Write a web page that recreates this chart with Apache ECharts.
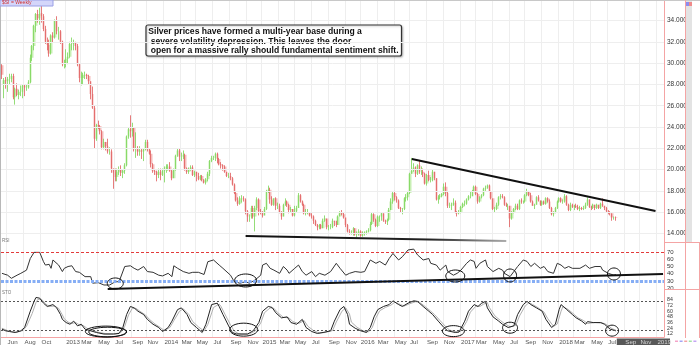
<!DOCTYPE html>
<html>
<head>
<meta charset="utf-8">
<script src="https://cdn.jsdelivr.net/npm/echarts@6/dist/echarts.min.js"></script>
<style>
html,body{margin:0;padding:0;background:#fff;}
#c{width:700px;height:345px;}
</style>
</head>
<body>
<div id="c"></div>
<script>
// Silver, weekly bars. First bar = week ending Fri 11 May 2012.
const firstWeek = '2012-05-11';
const weeksShown = 351; // bars plus empty weeks out to late Jan 2019

// [open, close, low, high] per week
const ohlc = [
[29.8,28.9,28.5,29.9],[28.0,28.4,26.7,28.6],[28.4,28.3,27.6,28.7],[28.3,28.5,27.3,28.7],[28.5,28.5,28.0,29.0],
[28.5,28.8,28.2,29.0],[28.8,26.8,26.6,29.0],[26.8,27.6,26.1,27.7],[27.6,27.0,26.9,28.1],[27.0,27.3,26.6,27.5],
[27.3,27.3,26.9,27.9],[27.3,27.9,26.7,28.0],[27.9,27.7,26.9,28.0],[27.7,27.7,27.4,28.0],[27.7,28.2,27.6,28.4],
[28.2,30.5,28.1,30.8],[30.5,31.6,30.2,31.7],[31.6,33.5,31.2,33.6],[33.5,34.6,32.9,34.7],[34.6,34.2,33.8,35.0],
[34.2,34.6,33.6,35.2],[34.7,34.4,33.8,35.4],[34.4,33.2,33.0,34.6],[33.2,32.0,31.8,33.5],[32.0,31.7,31.2,32.4],
[31.7,30.9,30.6,32.2],[30.9,32.6,30.8,32.7],[32.6,32.4,31.9,32.9],[32.4,34.0,32.3,34.1],[34.0,33.0,32.7,34.4],
[33.0,33.0,32.2,33.4],[33.0,32.0,31.8,33.1],[32.0,29.9,29.7,32.1],[29.9,30.0,29.5,30.3],
// 2013
[30.0,30.4,29.6,31.3],[30.4,30.6,29.9,31.0],[30.6,31.8,30.5,32.0],[31.8,31.8,31.2,32.4],[31.8,31.9,31.2,32.2],
[31.9,31.6,31.2,32.0],[31.6,29.9,29.7,31.8],[29.9,28.6,28.2,30.0],[28.6,28.6,27.9,29.2],[28.6,28.9,28.0,29.1],
[28.9,28.9,28.5,29.2],[28.9,28.8,28.5,29.0],[28.8,28.3,28.0,28.9],[28.3,27.1,26.6,28.3],[27.1,25.8,25.7,27.8],
[25.8,22.9,22.0,26.0],[22.9,24.2,22.7,24.3],[24.2,24.1,23.8,24.6],[24.1,23.6,23.3,24.2],[23.6,22.1,21.9,23.7],
[22.1,22.6,21.9,22.9],[22.6,22.2,21.8,22.6],[22.2,21.7,21.5,22.9],[21.7,21.7,21.4,22.1],[21.7,20.1,19.7,21.9],
[20.1,19.7,18.2,20.1],[19.7,19.3,18.9,20.1],[19.3,19.8,18.9,20.1],[19.8,20.0,19.5,20.3],[20.0,19.7,19.4,20.4],
[19.7,19.9,19.2,20.0],[19.9,20.4,19.6,20.6],[20.4,23.1,20.3,23.2],[23.1,23.8,22.9,24.0],[23.8,23.6,23.0,25.1],
[23.6,23.9,23.1,24.4],[23.9,21.9,21.7,24.0],[21.9,21.9,21.1,23.5],[21.9,21.7,21.3,22.2],[21.7,21.8,21.3,22.2],
[21.8,21.7,21.0,22.0],[21.7,21.9,20.8,22.0],[21.9,22.6,21.8,22.8],[22.6,21.9,21.7,22.8],[21.9,21.5,21.4,22.0],
[21.5,20.5,20.2,21.8],[20.5,19.9,19.7,20.6],[19.9,19.8,19.5,20.0],[19.8,19.5,18.9,19.9],[19.5,19.8,19.2,20.1],
[19.8,19.5,19.0,20.1],[19.5,19.9,19.4,20.1],
// 2014
[19.9,20.1,18.8,20.3],[20.1,20.3,19.7,20.5],[20.3,20.3,19.9,20.5],[20.3,19.9,19.8,20.7],[19.9,19.2,19.0,20.0],
[19.2,20.0,19.2,20.1],[20.0,21.3,19.9,21.4],[21.3,21.8,21.2,22.0],[21.8,21.2,20.8,22.0],[21.2,21.2,20.8,21.6],
[21.2,21.4,21.0,21.8],[21.4,20.1,19.9,21.5],[20.1,19.8,19.6,20.2],[19.8,20.0,19.6,20.2],[20.0,20.2,19.9,20.4],
[20.2,19.5,19.4,20.4],[19.5,19.8,19.3,19.9],[19.8,19.4,18.9,19.8],[19.4,19.1,19.0,19.7],[19.1,19.4,19.0,19.5],
[19.4,19.0,18.9,19.5],[19.0,18.8,18.7,19.1],[18.8,19.1,18.6,19.2],[19.1,19.6,18.9,19.8],[19.6,20.8,19.4,20.9],
[20.8,21.1,20.7,21.3],[21.1,21.1,20.9,21.3],[21.1,21.5,20.8,21.6],[21.5,21.0,20.6,21.6],[21.0,20.5,20.4,21.1],
[20.5,20.4,20.1,20.7],[20.4,20.3,19.9,20.5],[20.3,19.8,19.7,20.4],[19.8,19.4,19.3,19.8],[19.4,19.4,19.2,19.7],
[19.4,19.2,19.0,19.7],[19.2,18.6,18.5,19.3],[18.6,17.8,17.7,18.7],[17.8,17.1,17.0,17.9],[17.1,16.8,16.6,17.4],
[16.8,17.3,16.7,17.5],[17.3,17.3,16.9,17.6],[17.3,17.2,17.0,17.5],[17.2,16.1,15.8,17.3],[16.1,15.6,15.1,16.2],
[15.6,15.6,15.1,15.8],[15.6,16.4,15.4,16.6],[16.4,15.6,15.4,16.6],[15.6,16.4,14.2,16.6],[16.4,17.2,16.2,17.4],
[17.2,16.1,15.7,17.3],[16.1,16.0,15.8,16.3],
// 2015
[16.0,15.7,15.5,16.1],[15.7,16.3,15.7,16.5],[16.3,18.0,16.2,18.1],[18.0,18.1,17.8,18.5],[18.1,17.2,16.8,18.3],
[17.2,16.7,16.6,17.5],[16.7,17.3,16.6,17.3],[17.3,16.6,16.2,17.4],[16.6,16.6,16.3,16.9],[16.6,16.0,15.9,16.8],
[16.0,15.6,15.3,16.1],[15.6,16.7,15.6,16.8],[16.7,17.0,16.6,17.3],[17.0,16.7,16.5,17.1],[16.7,16.2,15.9,16.8],
[16.2,16.3,16.0,16.5],[16.3,15.7,15.6,16.3],[15.7,16.1,15.6,16.6],[16.1,16.4,16.0,16.6],[16.4,17.6,16.4,17.8],
[17.6,17.0,16.9,17.7],[17.0,16.7,16.6,17.1],[16.7,15.9,15.8,16.8],[15.9,16.0,15.7,16.3],[16.0,16.0,15.8,16.3],
[16.0,15.7,15.6,16.0],[15.7,15.6,15.4,15.9],[15.6,15.2,14.9,15.7],[15.2,14.8,14.7,15.3],[14.8,14.6,14.3,14.9],
[14.6,14.8,14.4,14.9],[14.8,14.5,14.4,14.9],[14.5,15.2,14.5,15.4],[15.2,15.4,15.1,15.7],[15.4,14.6,14.4,15.4],
[14.6,14.6,14.3,14.8],[14.6,14.6,14.4,14.9],[14.6,15.2,14.5,15.4],[15.2,15.1,14.7,15.2],[15.1,14.8,14.6,15.2],
[14.8,15.6,14.8,15.7],[15.6,15.9,15.6,16.1],[15.9,15.8,15.7,16.2],[15.8,15.5,15.4,16.0],[15.5,14.8,14.6,15.5],
[14.8,14.2,14.1,14.9],[14.2,14.1,13.9,14.4],[14.1,14.1,13.9,14.3],[14.1,14.5,13.8,14.6],[14.5,13.9,13.8,14.5],
[13.9,13.9,13.6,14.2],[13.9,14.2,13.8,14.4],
// 2016
[14.2,13.8,13.7,14.3],[13.8,14.0,13.7,14.2],[14.0,14.1,13.8,14.2],[14.1,14.2,13.9,14.3],[14.2,14.3,14.1,14.5],
[14.3,14.9,14.2,15.1],[14.9,15.8,14.8,16.0],[15.8,15.3,15.1,15.9],[15.3,14.7,14.6,15.4],[14.7,15.6,14.6,15.7],
[15.6,15.6,15.1,15.7],[15.6,15.9,15.2,16.0],[15.9,15.2,15.1,15.9],[15.2,15.1,14.9,15.3],[15.1,15.3,14.8,15.4],
[15.3,16.2,15.2,16.4],[16.2,17.0,16.2,17.3],[17.0,17.8,16.8,17.9],[17.8,17.4,17.1,18.0],[17.4,17.1,16.9,17.5],
[17.1,16.4,16.3,17.2],[16.4,16.3,16.0,16.5],[16.3,16.3,15.8,16.4],[16.3,17.3,16.2,17.4],[17.3,17.4,17.0,17.7],
[17.4,17.8,17.1,18.0],[17.8,19.6,17.7,19.7],[19.6,19.9,19.6,21.1],[19.9,20.2,19.8,20.6],[20.2,19.6,19.3,20.3],
[19.6,20.4,19.5,20.5],[20.4,19.8,19.6,20.8],[19.8,19.8,19.5,20.3],[19.8,19.6,19.3,20.1],[19.6,18.7,18.6,19.7],
[18.7,19.5,18.5,19.6],[19.5,19.0,18.9,19.9],[19.0,19.0,18.8,19.3],[19.0,19.8,18.9,20.0],[19.8,19.2,19.0,19.8],
[19.2,17.2,17.1,19.2],[17.2,17.4,16.8,17.6],[17.4,17.5,17.2,17.7],[17.5,17.7,17.4,17.8],[17.7,18.4,17.6,18.7],
[18.4,17.8,17.5,18.8],[17.8,16.6,16.4,17.9],[16.6,16.6,16.4,16.9],[16.6,16.7,16.2,16.9],[16.7,16.9,16.6,17.3],
[16.9,16.0,15.9,17.1],[16.0,15.9,15.6,16.1],[15.9,16.0,15.8,16.2],
// 2017
[16.0,16.5,15.9,16.6],[16.5,16.8,16.4,16.9],[16.8,16.8,16.6,17.1],[16.8,17.2,16.7,17.3],[17.2,17.5,17.1,17.6],
[17.5,17.5,17.3,17.9],[17.5,18.0,17.5,18.1],[18.0,18.4,17.9,18.5],[18.4,17.7,17.6,18.5],[17.7,17.0,16.8,17.8],
[17.0,17.4,16.9,17.5],[17.4,17.6,17.3,17.7],[17.6,18.2,17.5,18.3],[18.2,18.3,18.0,18.5],[18.3,18.5,18.2,18.6],
[18.5,18.0,17.9,18.6],[18.0,17.3,17.2,18.0],[17.3,16.3,16.2,17.3],[16.3,16.3,16.0,16.5],[16.3,16.7,16.2,16.9],
[16.7,17.4,16.6,17.5],[17.4,17.5,17.2,17.7],[17.5,17.4,17.3,17.7],[17.4,16.7,16.6,17.5],[16.7,16.6,16.5,16.9],
[16.6,16.6,16.2,16.8],[16.6,15.4,14.6,16.6],[15.4,16.0,15.3,16.1],[16.0,16.3,15.9,16.4],[16.3,16.6,16.2,16.8],
[16.6,16.3,16.2,16.8],[16.3,17.1,16.2,17.2],[17.1,17.0,16.8,17.3],[17.0,17.0,16.8,17.1],[17.0,17.6,16.9,17.7],
[17.6,18.0,17.5,18.2],[18.0,17.6,17.5,18.0],[17.6,17.0,16.9,17.8],[17.0,16.6,16.6,17.1],[16.6,16.7,16.3,16.8],
[16.7,17.4,16.7,17.5],[17.4,17.1,17.0,17.6],[17.1,16.7,16.6,17.1],[16.7,17.0,16.6,17.1],[17.0,16.8,16.7,17.1],
[16.8,17.3,16.7,17.4],[17.3,17.0,16.9,17.4],[17.0,16.4,16.3,17.2],[16.4,15.8,15.7,16.5],[15.8,16.0,15.6,16.1],
[16.0,16.4,15.9,16.5],[16.4,17.0,16.3,17.1],
// 2018
[17.0,17.3,16.9,17.4],[17.3,17.0,16.9,17.4],[17.0,17.0,16.8,17.2],[17.0,17.5,16.9,17.7],[17.5,16.7,16.6,17.6],
[16.7,16.2,16.1,16.8],[16.2,16.7,16.1,16.9],[16.7,16.5,16.4,16.8],[16.5,16.6,16.2,16.7],[16.6,16.5,16.4,16.8],
[16.5,16.3,16.2,16.7],[16.3,16.4,16.1,16.6],[16.4,16.3,16.2,16.5],[16.3,16.4,16.2,16.6],[16.4,16.7,16.3,16.9],
[16.7,17.2,16.6,17.4],[17.2,16.5,16.4,17.2],[16.5,16.4,16.2,16.6],[16.4,16.7,16.3,16.8],[16.7,16.4,16.2,16.7],
[16.4,16.7,16.3,16.8],[16.7,16.4,16.3,16.7],[16.4,16.8,16.3,16.9],[16.8,16.6,16.5,17.3],[16.6,16.4,16.2,16.6],
[16.4,16.1,16.0,16.5],[16.1,16.0,15.8,16.2],[16.0,15.9,15.7,16.1],[15.9,15.5,15.2,15.9],[15.5,15.5,15.3,15.6],
[15.5,15.45,15.2,15.6]
];

// RSI readings [week index, value]
const rsiPts = [
[0,40.6],[3,38],[5,33.7],[8,38],[10,40.6],[13,45],[15,61],[17,69.5],[18,70.5],[20,69.5],[22,56.6],[23,52],[25,53],
[26,47.5],[27,59],[28,60],[30,52],[32,43],[33,47.5],[35,50],[37,51],[39,43],[41,42],[44,36],[47,36],[48,27],
[51,27.7],[54,24.5],[57,24.5],[60,29],[62,29],[65,50],[68,51],[70,47.5],[72,45],[75,50],[77,43],[80,42],[83,38],
[85,37],[88,40.6],[90,36],[91,51],[93,47.5],[96,43],[99,40.6],[101,42],[104,42],[107,39],[109,56.6],[112,59],
[115,52],[117,47.5],[121,38],[123,29],[126,27],[129,29],[131,27],[134,31.4],[137,38],[138,52],[140,54.4],
[142,47.5],[144,45],[145,47.5],[147,40.6],[149,50],[151,45],[152,40.6],[155,47.5],[157,52],[159,43],[161,38],
[164,43],[166,36],[168,40.6],[171,38],[174,43],[177,54.4],[179,47.5],[182,38],[184,40.6],[187,43],[190,42],
[192,43],[195,59],[198,54.4],[200,57],[203,52],[205,61],[207,68],[210,59],[212,63.5],[215,72.8],[218,74],
[220,66],[223,59],[226,61],[227,54.4],[230,52],[232,45],[235,52],[236,43],[239,38],[241,40.6],[243,45],
[246,54.4],[248,59],[250,57],[251,47.5],[253,54.4],[256,59],[257,50],[260,43],[263,47.5],[265,45],[266,40.6],
[269,36],[271,43],[273,50],[276,59],[278,57],[280,50],[282,54.4],[285,47.5],[287,50],[289,43],[292,40.6],
[294,54.4],[296,52],[298,47.5],[300,50],[302,47.5],[306,47.5],[309,52],[311,47.5],[314,50],[317,50],[318,45],
[321,40.6],[324,38],[325,39]
];

// Stochastic %K readings [week index, value]
const stoK = [
[0,22],[2,18.5],[4,17],[7,15],[10,18.5],[12,25.5],[15,60],[17,80.7],[18,89],[20,87.6],[22,77],[24,70],[25,67],
[27,74],[29,67],[31,53],[32,42.7],[34,36],[36,32.4],[38,39],[40,29],[42,32.4],[44,22],[47,18.5],[50,15],
[54,11.7],[59,11.7],[62,13],[64,25.5],[66,53],[68,70],[70,67],[72,60],[75,53],[77,42.7],[80,32.4],[83,25.5],
[85,17],[88,25.5],[90,39],[93,63.5],[95,67],[98,53],[100,36],[103,25.5],[106,15],[108,32.4],[111,74],[114,77],
[115,70],[117,53],[120,29],[122,15],[124,12],[126,11.7],[130,11.7],[133,18.5],[136,36],[138,60],[141,70],
[143,68],[145,56.6],[148,46],[151,48],[153,36],[156,32.4],[159,42.7],[161,25.5],[164,17],[167,13],[170,15],
[174,18.5],[176,39],[179,63.5],[181,70],[183,53],[184,32.4],[187,24],[190,18.5],[193,15],[195,25.5],[197,48],
[199,63.5],[202,70],[205,74],[207,82],[210,74],[212,70],[215,77],[218,82],[220,80.7],[223,70],[226,60],
[228,53],[231,39],[234,25.5],[236,18.5],[240,15],[242,16],[245,39],[247,60],[250,74],[252,70],[254,77],
[256,80.7],[257,67],[260,48],[263,39],[265,32.4],[268,25.5],[271,29],[273,53],[276,74],[278,80.7],[280,74],
[283,67],[286,60],[288,42.7],[291,25.5],[293,32.4],[295,63.5],[296,74],[299,63.5],[302,53],[304,46],[307,39],
[309,32.4],[310,38],[313,36],[317,36],[319,32.4],[322,22],[325,18.5]
];

// Stochastic %D readings [week index, value]
const stoD = [
[0,24],[3,19],[5,17],[8,15.5],[11,19],[13,28],[16,55],[18,78],[19,85],[21,85],[23,76],[25,70],[26,68],[28,71],
[30,66],[32,52],[33,44],[35,37],[37,34],[39,36],[41,31],[43,30],[45,24],[48,19],[51,15.5],[55,12.5],[60,12],
[63,15],[65,28],[67,52],[69,66],[71,66],[73,60],[76,52],[78,43],[81,33],[84,25],[86,19],[89,26],[91,40],[94,60],
[96,65],[99,53],[101,38],[104,27],[107,18],[109,32],[112,68],[115,75],[116,70],[118,54],[121,31],[123,18],
[125,13],[127,12],[131,12],[134,18],[137,35],[139,57],[142,67],[144,66],[146,57],[149,47],[152,46],[154,38],
[157,34],[160,40],[162,28],[165,19],[168,14],[171,15],[175,19],[177,37],[180,60],[182,67],[184,54],[185,37],
[188,26],[191,19],[194,16],[196,25],[198,46],[200,61],[203,68],[206,73],[208,79],[211,74],[213,71],[216,76],
[219,80],[221,79],[224,70],[227,60],[229,53],[232,40],[235,27],[237,20],[241,16],[243,18],[246,38],[248,58],
[251,71],[253,70],[255,75],[257,78],[258,68],[261,50],[264,40],[266,34],[269,27],[272,30],[274,50],[277,71],
[279,78],[281,74],[284,67],[287,58],[289,44],[292,28],[294,33],[296,60],[297,70],[300,63],[303,53],[305,46],
[308,40],[310,34],[311,37],[314,36],[318,35],[320,32],[323,23],[325,20]
];

// axis tick values
const priceTicks = [14,16,18,20,22,24,26,28,30,32,34];
const rsiTicks = [20,30,40,50,60,70];
const stoTicks = [12,24,36,48,60,72,84];
const monthTicks = ['2012-06','2012-08','2012-10',
  '2013-01','2013-03','2013-05','2013-07','2013-09','2013-11',
  '2014-01','2014-03','2014-05','2014-07','2014-09','2014-11',
  '2015-01','2015-03','2015-05','2015-07','2015-09','2015-11',
  '2016-01','2016-03','2016-05','2016-07','2016-09','2016-11',
  '2017-01','2017-03','2017-05','2017-07','2017-09','2017-11',
  '2018-01','2018-03','2018-05','2018-07','2018-09','2018-11','2019-01'];
const monthNames = ['Jan','Feb','Mar','Apr','May','Jun','Jul','Aug','Sep','Oct','Nov','Dec'];

// comment text, one entry per line
const noteLines = [
  'Silver prices have formed a multi-year base during a',
  ' severe volatility depression. This leaves the door',
  ' open for a massive rally should fundamental sentiment shift.'
];

// hand-drawn trend lines [[week, value],[week, value]]
const priceTrends = [
  [[128.7,13.77],[267.4,13.30]],
  [[216.5,21.0],[346.2,16.11]],
  [[209.7,15.64],[350.5,14.61]]
];
const rsiTrend = [[56.1,19.0],[350,39.7]];
// circled spots [week, value, rx, ry]
const rsiRings = [[60.4,26.6,8,5.5],[129.2,30.7,11,6.5],[240.4,36.9,9.5,6],[268.7,37.6,6.5,6.5],[323.7,39.7,6.5,6]];
const stoRings = [[55.3,16.9,20.5,5.5],[55.8,16.0,19,4.8],[127.6,21,14,6.5],[239.3,17.9,11,5.5],[269.2,25.1,7.5,5.5],[323.2,18.9,6.5,5.5]];

// ---- categories ----
const cats = [];
const t0 = Date.parse(firstWeek + 'T00:00:00Z');
for (let i = 0; i < weeksShown; i++) {
  cats.push(new Date(t0 + i * 7 * 86400000).toISOString().slice(0, 10));
}
const lastIdx = ohlc.length - 1;
const lastClose = ohlc[lastIdx][1];

const labelAt = new Map();
monthTicks.forEach(function (m) {
  const idx = cats.findIndex(function (c) { return c.slice(0, 7) === m; });
  if (idx >= 0) {
    const mo = +m.slice(5, 7);
    labelAt.set(idx, mo === 1 ? m.slice(0, 4) : monthNames[mo - 1]);
  }
});
const isTick = function (idx) { return labelAt.has(idx); };

const FONT = 'Liberation Sans';
const PINK = '#f4a4a4';
const GRIDC = '#eeeeee';

function xAxisFor(k) {
  const bottom = k === 2;
  return {
    type: 'category', gridIndex: k, data: cats, boundaryGap: true,
    axisLine: { show: bottom, lineStyle: { color: PINK, width: 1 } },
    axisTick: { show: false },
    axisLabel: {
      show: bottom, interval: function (idx) { return isTick(idx); },
      formatter: function (v) { return labelAt.get(cats.indexOf(v)) || ''; },
      color: function (v) { return cats.indexOf(v) > lastIdx ? '#d6d6d6' : '#555'; },
      fontFamily: FONT, fontSize: 6.2, align: 'left', margin: 2
    },
    splitLine: { show: true, interval: function (idx) { return isTick(idx); }, lineStyle: { color: GRIDC, width: 1 } }
  };
}
function yAxisFor(k, min, max, ticks, fmt, fs) {
  return {
    type: 'value', gridIndex: k, position: 'right', min: min, max: max, scale: true,
    axisLine: { show: true, lineStyle: { color: PINK, width: 1 } },
    axisTick: { show: false },
    splitLine: { show: false },
    axisLabel: {
      customValues: ticks, formatter: fmt, fontFamily: FONT, fontSize: fs, color: '#333',
      margin: 3, padding: [0, 0, 2, 0], hideOverlap: false
    }
  };
}

const chart = echarts.init(document.getElementById('c'), null, { width: 700, height: 345 });

const option = {
  animation: false,
  backgroundColor: '#ffffff',
  grid: [
    { left: 1, right: 36, top: 1, height: 242 },
    { left: 1, right: 36, top: 243, height: 47 },
    { left: 1, right: 36, top: 290, height: 48 }
  ],
  xAxis: [xAxisFor(0), xAxisFor(1), xAxisFor(2)],
  yAxis: [
    yAxisFor(0, 13.11, 35.83, priceTicks, function (v) { return v.toFixed(3); }, 6.5),
    yAxisFor(1, 17.59, 82.41, rsiTicks, function (v) { return String(v); }, 6),
    yAxisFor(2, 5.47, 104.84, stoTicks, function (v) { return String(v); }, 5.2)
  ],
  series: [
    { // price grid lines
      type: 'line', xAxisIndex: 0, yAxisIndex: 0, data: [], z: 0, silent: true,
      markLine: {
        silent: true, symbol: ['none', 'none'], label: { show: false },
        lineStyle: { color: GRIDC, type: 'solid', width: 1 },
        data: priceTicks.map(function (v) { return { yAxis: v }; })
      }
    },
    { // pale bodies
      type: 'candlestick', xAxisIndex: 0, yAxisIndex: 0, data: ohlc, barWidth: 3, z: 2,
      itemStyle: { color: '#c8efb4', color0: '#f5bcbc', borderColor: '#c8efb4', borderColor0: '#f5bcbc', borderWidth: 0 }
    },
    { // range lines
      type: 'candlestick', xAxisIndex: 0, yAxisIndex: 0, data: ohlc, barWidth: 1, z: 3,
      itemStyle: { color: '#78d456', color0: '#e05a5a', borderColor: '#78d456', borderColor0: '#e05a5a', borderWidth: 0.8 },
      markLine: {
        silent: true, symbol: ['none', 'none'],
        data: [{
          yAxis: lastClose, lineStyle: { opacity: 0 },
          label: {
            show: true, position: 'end', distance: 2, formatter: lastClose.toFixed(3),
            backgroundColor: '#111', color: '#fff', fontFamily: FONT, fontSize: 6.5, padding: [1, 2, 1, 2]
          }
        }]
      }
    },
    { // trend lines on price
      type: 'line', xAxisIndex: 0, yAxisIndex: 0, data: [], z: 5, silent: true,
      markLine: {
        silent: true, symbol: ['none', 'none'], label: { show: false },
        lineStyle: { color: '#111', type: 'solid', width: 2 },
        data: priceTrends.map(function (s, k) {
          const first = { coord: s[0] };
          if (k === 0) {
            first.lineStyle = {
              width: 2,
              color: new echarts.graphic.LinearGradient(0, 0, 1, 0, [
                { offset: 0, color: '#111' }, { offset: 0.7, color: '#222' }, { offset: 1, color: '#b0b0b0' }
              ])
            };
          }
          return [first, { coord: s[1] }];
        })
      }
    },
    { // RSI
      type: 'line', xAxisIndex: 1, yAxisIndex: 1, data: rsiPts, symbol: 'none', z: 3,
      lineStyle: { color: '#333', width: 1 },
      markLine: {
        silent: true, symbol: ['none', 'none'], label: { show: false },
        data: [
          { yAxis: 70, lineStyle: { color: '#e23b3b', type: [3, 2], width: 1.2 } },
          { yAxis: 30, lineStyle: { color: '#86aef5', type: [3, 1.5], width: 3 } },
          [{ coord: rsiTrend[0], lineStyle: { color: '#111', type: 'solid', width: 2 } }, { coord: rsiTrend[1] }]
        ]
      }
    },
    { // Stochastic %D
      type: 'line', xAxisIndex: 2, yAxisIndex: 2, data: stoD, symbol: 'none', z: 2,
      lineStyle: { color: '#b0b0b0', width: 1 },
      markLine: {
        silent: true, symbol: ['none', 'none'], label: { show: false },
        lineStyle: { color: '#555', type: [2, 2], width: 1 },
        data: [{ yAxis: 80 }, { yAxis: 20 }]
      }
    },
    { // Stochastic %K
      type: 'line', xAxisIndex: 2, yAxisIndex: 2, data: stoK, symbol: 'none', z: 3,
      lineStyle: { color: '#222', width: 1 }
    }
  ]
};
chart.setOption(option);

// decorations drawn after layout
const gfx = [];
function ring(grid, r) {
  const p = chart.convertToPixel({ xAxisIndex: grid, yAxisIndex: grid }, [r[0], r[1]]);
  gfx.push({ type: 'ellipse', silent: true, z: 20, shape: { cx: p[0], cy: p[1], rx: r[2], ry: r[3] },
    style: { fill: 'none', stroke: '#111', lineWidth: 1 } });
}
rsiRings.forEach(function (r) { ring(1, r); });
stoRings.forEach(function (r) { ring(2, r); });

const pLast = chart.convertToPixel({ xAxisIndex: 2, yAxisIndex: 2 }, [lastIdx, 50]);
const pEnd = chart.convertToPixel({ xAxisIndex: 2, yAxisIndex: 2 }, [weeksShown - 1, 50]);
const step = (pEnd[0] - pLast[0]) / (weeksShown - 1 - lastIdx);
const bandX = pLast[0] + step / 2;
const rightX = pEnd[0] + step / 2;

// comment box: frame plus one text element per line
const noteChildren = [
  { type: 'rect', shape: { x: 0, y: 0, width: 255.5, height: 31, r: 2 },
    style: { fill: '#ffffff', stroke: '#333', lineWidth: 1.2, shadowBlur: 2, shadowColor: 'rgba(0,0,0,0.25)', shadowOffsetX: 1, shadowOffsetY: 1 } }
];
noteLines.forEach(function (t, k) {
  noteChildren.push({ type: 'text', x: 2.3, y: 6.7 + k * 9.6,
    style: { text: t, fill: '#111', font: 'bold 8.6px "Liberation Sans"', verticalAlign: 'middle' } });
});

gfx.push(
  // future part of the date strip
  { type: 'rect', silent: true, z: 0, shape: { x: bandX, y: 338.5, width: rightX + 6 - bandX, height: 7 }, style: { fill: '#585858' } },
  // frame lines
  { type: 'line', silent: true, z: 30, shape: { x1: 0, y1: 0.5, x2: 700, y2: 0.5 }, style: { stroke: '#c8c8c8', lineWidth: 1 } },
  { type: 'line', silent: true, z: 30, shape: { x1: 0.5, y1: 0, x2: 0.5, y2: 345 }, style: { stroke: '#b8b8b8', lineWidth: 1 } },
  { type: 'line', silent: true, z: 30, shape: { x1: rightX, y1: 242.5, x2: 700, y2: 242.5 }, style: { stroke: PINK, lineWidth: 1 } },
  { type: 'line', silent: true, z: 30, shape: { x1: rightX, y1: 289.5, x2: 700, y2: 289.5 }, style: { stroke: PINK, lineWidth: 1 } },
  { type: 'line', silent: true, z: 30, shape: { x1: 685.5, y1: 0, x2: 685.5, y2: 338 }, style: { stroke: PINK, lineWidth: 1 } },
  { type: 'line', silent: true, z: 30, shape: { x1: 699.5, y1: 243, x2: 699.5, y2: 338 }, style: { stroke: PINK, lineWidth: 1 } },
  // scroll strip at the right of the price pane
  { type: 'rect', silent: true, z: 30, shape: { x: 686, y: 1, width: 6, height: 241 }, style: { fill: '#e3e3e3' } },
  { type: 'rect', silent: true, z: 31, shape: { x: 686, y: 2, width: 3, height: 4 }, style: { fill: '#8c8cf0' } },
  { type: 'rect', silent: true, z: 31, shape: { x: 689, y: 2, width: 3, height: 4 }, style: { fill: '#f08a8a' } },
  // symbol tag
  { type: 'rect', silent: true, z: 30, shape: { x: 0, y: 0, width: 53, height: 6 }, style: { fill: '#d4d6fa', stroke: '#9aa0e6', lineWidth: 1 } },
  { type: 'text', silent: true, z: 31, x: 2, y: 0.5, style: { text: '$SI = Weekly', fill: '#d03030', font: '5px "Liberation Sans"' } },
  // pane captions
  { type: 'text', silent: true, z: 31, x: 2, y: 238.5, style: { text: 'RSI', fill: '#777', font: '4.5px "Liberation Sans"' } },
  { type: 'text', silent: true, z: 31, x: 2, y: 290.5, style: { text: 'STO', fill: '#777', font: '4.5px "Liberation Sans"' } },
  { type: 'group', z: 40, silent: true, x: 146, y: 25, children: noteChildren }
);
// little colour keys at the bottom right
['#f4a4c8', '#a4a4f4', '#f4a4a4', '#a4e4a4', '#c4a4f4'].forEach(function (c, k) {
  gfx.push({ type: 'rect', silent: true, z: 30, shape: { x: 675 + k * 4.6, y: 340.5, width: 3, height: 1.5 }, style: { fill: c } });
});
chart.setOption({ graphic: gfx });
</script>
</body>
</html>
